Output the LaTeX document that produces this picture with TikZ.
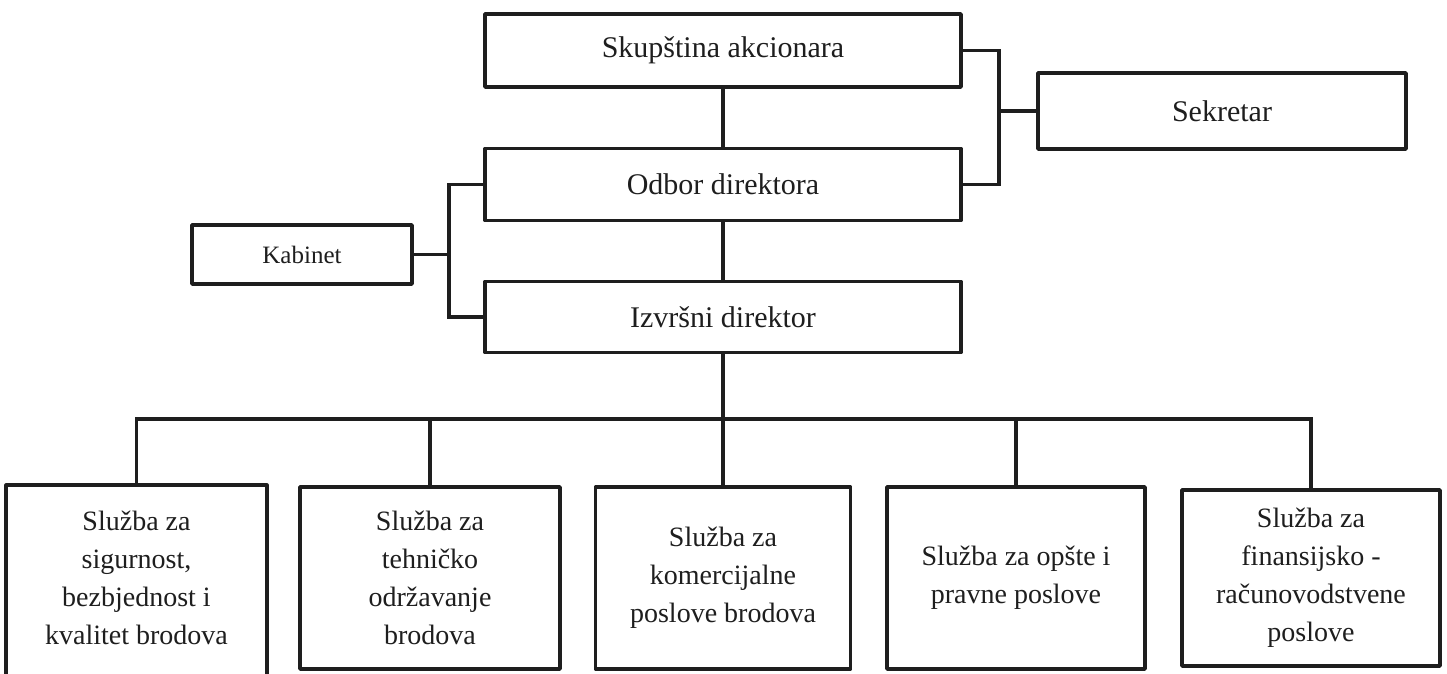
\documentclass[tikz,border=0pt]{standalone}
\usepackage{fontspec}
\setmainfont{Liberation Serif}
\definecolor{ink}{HTML}{1E1E1E}
\begin{document}
\begin{tikzpicture}[x=1pt,y=-1pt,
  lw/.style={line width=3.6pt, draw=ink, line join=round},
  topbox/.style={lw, rectangle, inner sep=0pt, text=ink, font=\fontsize{30}{36}\selectfont},
  kabbox/.style={lw, rectangle, inner sep=0pt, text=ink, font=\fontsize{25}{30}\selectfont, minimum width=220pt, minimum height=59pt},
  svc/.style={lw, rectangle, inner sep=0pt, text=ink, align=center, font=\fontsize{28}{38}\selectfont, minimum width=257pt, minimum height=182pt},
  conn/.style={line width=3.4pt, draw=ink, line join=miter}
]
\useasboundingbox (0,0) rectangle (1447,673);
\fill[white] (0,0) rectangle (1447,673);

\node[topbox, minimum width=476pt, minimum height=73pt] (skup) at (723,50.5) {Skupština akcionara};
\node[topbox, minimum width=476pt, minimum height=72pt] (odbor) at (723,184.5) {Odbor direktora};
\node[topbox, minimum width=476pt, minimum height=71pt] (izv) at (723,317) {Izvršni direktor};
\node[topbox, minimum width=368pt, minimum height=76pt] (sek) at (1222,111) {Sekretar};
\node[kabbox] (kab) at (302,254.5) {Kabinet};

\node[svc, draw=none] (b1) at (136.5,578) {Služba za\\sigurnost,\\bezbjednost i\\kvalitet brodova};
\draw[lw] ([yshift=-30pt]b1.south west) -- (b1.north west) -- (b1.north east) -- ([yshift=-30pt]b1.south east);
\node[svc, minimum width=260pt] (b2) at (430,578) {Služba za\\tehničko\\održavanje\\brodova};
\node[svc, minimum width=255pt] (b3) at (723,578) {Služba za\\komercijalne\\poslove brodova};
\node[svc, minimum width=258pt] (b4) at (1016,578) {Služba za opšte i\\pravne poslove};
\node[svc, minimum width=258pt, minimum height=176pt] (b5) at (1311,578) {Služba za\\finansijsko -\\računovodstvene\\poslove};

% vertical chain
\draw[conn] (skup.south) -- (odbor.north);
\draw[conn] (odbor.south) -- (izv.north);

% right bracket to Sekretar
\coordinate (rb) at (999,111);
\draw[conn] (skup.east) -- (skup.east -| rb) -- (odbor.east -| rb) -- (odbor.east);
\draw[conn] (sek.west) -- (rb);

% left bracket to Kabinet
\coordinate (lb) at (449,254.5);
\draw[conn] (odbor.west) -- (odbor.west -| lb) -- (izv.west -| lb) -- (izv.west);
\draw[conn] (kab.east) -- (lb);

% bus to services
\coordinate (bus) at (723,419);
\draw[conn] (izv.south) -- (bus);
\draw[conn] (b1.north) -- (b1.north |- bus) -- (b5.north |- bus) -- (b5.north);
\draw[conn] (b2.north) -- (b2.north |- bus);
\draw[conn] (b3.north) -- (b3.north |- bus);
\draw[conn] (b4.north) -- (b4.north |- bus);
\end{tikzpicture}
\end{document}
